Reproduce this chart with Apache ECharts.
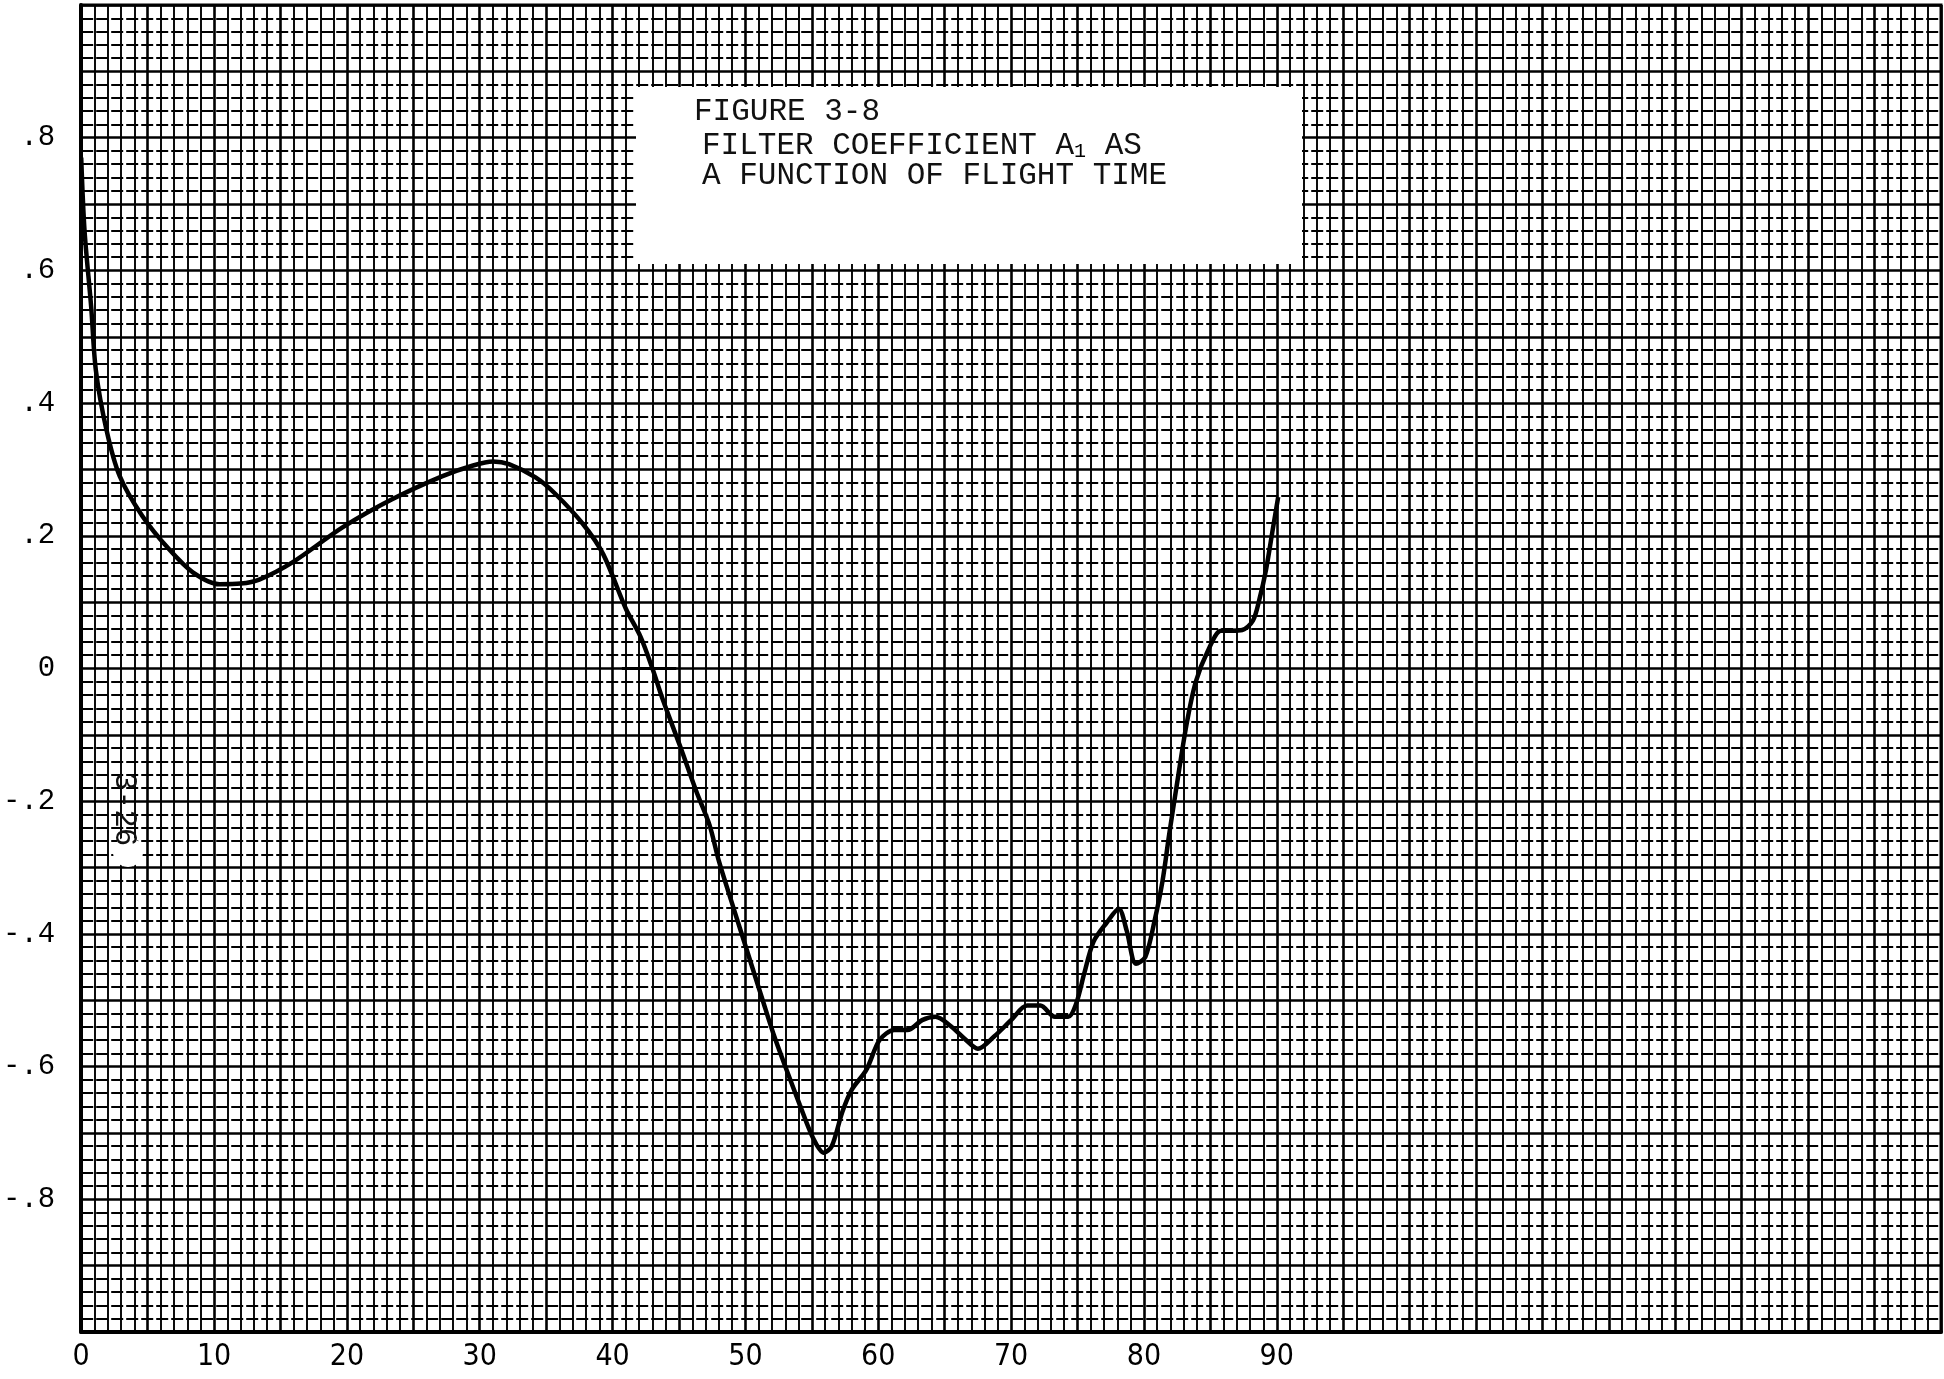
<!DOCTYPE html>
<html>
<head>
<meta charset="utf-8">
<script src="https://cdn.jsdelivr.net/npm/echarts@6/dist/echarts.min.js"></script>
<style>
html,body{margin:0;padding:0;background:#fff;}
#chart{width:1944px;height:1379px;}
</style>
</head>
<body>
<div id="chart"></div>
<script>
// Flight time (x) and filter coefficient A1 (y)
const flightTime = [0, 0.25, 0.75, 1.1, 1.9, 2.9, 4.6, 6.6, 8.4, 10.4, 12.0, 13.4, 15.9, 19.7, 23.4, 27.2, 29.5, 31.0, 32.2, 34.2, 35.7, 37.8, 39.3, 41.0, 42.1, 43.0, 43.8, 45.1, 46.3, 47.3, 48.0, 48.9, 49.8, 51.3, 52.1, 53.1, 54.1, 55.1, 55.9, 56.5, 57.3, 58.0, 59.1, 60.1, 61.2, 62.2, 63.3, 64.3, 65.4, 66.5, 67.5, 68.7, 70.0, 71.2, 72.2, 73.3, 74.3, 74.9, 75.5, 76.2, 77.2, 78.1, 78.7, 79.4, 80.1, 80.8, 81.4, 81.9, 82.4, 83.2, 83.9, 84.8, 85.8, 86.6, 87.4, 88.2, 88.7, 89.2, 89.7, 90.1];
const coefficientA1 = [0.77, 0.66, 0.545, 0.45, 0.36, 0.29, 0.23, 0.18, 0.145, 0.127, 0.128, 0.134, 0.16, 0.213, 0.255, 0.29, 0.306, 0.312, 0.308, 0.288, 0.263, 0.217, 0.172, 0.09, 0.048, 0.0, -0.048, -0.118, -0.185, -0.236, -0.29, -0.348, -0.405, -0.5, -0.55, -0.605, -0.658, -0.708, -0.73, -0.72, -0.668, -0.635, -0.605, -0.56, -0.545, -0.545, -0.53, -0.525, -0.538, -0.558, -0.573, -0.555, -0.53, -0.508, -0.508, -0.525, -0.525, -0.505, -0.46, -0.412, -0.383, -0.362, -0.395, -0.445, -0.435, -0.38, -0.32, -0.25, -0.185, -0.085, -0.02, 0.026, 0.057, 0.057, 0.058, 0.072, 0.105, 0.15, 0.21, 0.258];
// hand-drawn zero-crossing mark
const crossMarkX = [40.7, 44.8];
const crossMarkY = [0, 0];

const xTickValues = [0, 10, 20, 30, 40, 50, 60, 70, 80, 90];
const xTickLabels = ['0', '10', '20', '30', '40', '50', '60', '70', '80', '90'];
const yTickValues = [0.8, 0.6, 0.4, 0.2, 0, -0.2, -0.4, -0.6, -0.8];
const yTickLabels = ['.8', '.6', '.4', '.2', '0', '-.2', '-.4', '-.6', '-.8'];

const titleLines = ['FIGURE 3-8', 'FILTER COEFFICIENT A', '1', ' AS', 'A FUNCTION OF FLIGHT TIME'];
const pageMark = '3-26';

function lookup(values, labels, v) {
  for (let i = 0; i < values.length; i++) {
    if (Math.abs(values[i] - v) < 1e-6) return labels[i];
  }
  return '';
}

const mono = '"Liberation Mono", "DejaVu Sans Mono", monospace';
const chart = echarts.init(document.getElementById('chart'));

const option = {
  animation: false,
  backgroundColor: '#fff',
  grid: {left: 80, right: 2, top: 5, bottom: 47, show: true, borderColor: '#000', borderWidth: 3},
  xAxis: {
    type: 'value', min: 0, max: 140, interval: 5,
    axisLine: {show: true, onZero: false, lineStyle: {color: '#000', width: 4}},
    axisTick: {show: false},
    splitLine: {show: true, lineStyle: {color: '#000', width: 2.6}},
    minorTick: {show: false, splitNumber: 5},
    minorSplitLine: {show: true, lineStyle: {color: '#000', width: 1.9}},
    axisLabel: {
      margin: 10, fontSize: 30, color: '#000', fontFamily: '"DejaVu Sans Condensed", "DejaVu Sans", sans-serif',
      formatter: v => lookup(xTickValues, xTickLabels, v)
    }
  },
  yAxis: {
    type: 'value', min: -1, max: 1, interval: 0.1,
    axisLine: {show: true, onZero: false, lineStyle: {color: '#000', width: 4}},
    axisTick: {show: false},
    splitLine: {show: true, lineStyle: {color: '#000', width: 2.6}},
    minorTick: {show: false, splitNumber: 5},
    minorSplitLine: {show: true, lineStyle: {color: '#000', width: 1.9, type: [12, 3]}},
    axisLabel: {
      margin: 26, fontSize: 29, color: '#000', fontFamily: mono,
      formatter: v => lookup(yTickValues, yTickLabels, Math.round(v * 10) / 10)
    }
  },
  series: [
    {
      type: 'line', data: flightTime.map((x, i) => [x, coefficientA1[i]]),
      symbol: 'none', smooth: 0.3, z: 5,
      lineStyle: {color: '#000', width: 4.5}
    },
    {
      type: 'line', data: crossMarkX.map((x, i) => [x, crossMarkY[i]]),
      symbol: 'none', z: 5,
      lineStyle: {color: '#000', width: 3}
    }
  ],
  graphic: [
    {type: 'rect', left: 636, top: 87, shape: {width: 666, height: 177}, style: {fill: '#fff'}, z: 50},
    {type: 'text', left: 694, top: 96, z: 51, style: {text: titleLines[0], font: '31px ' + mono, fill: '#111'}},
    {type: 'text', left: 702, top: 130, z: 51, style: {
      text: '{t|' + titleLines[1] + '}{s|' + titleLines[2] + '}{t|' + titleLines[3] + '}',
      rich: {t: {fontSize: 31, fontFamily: mono, fill: '#111', color: '#111'}, s: {fontSize: 20, fontFamily: mono, color: '#111', padding: [12, 0, 0, 0]}}
    }},
    {type: 'text', left: 702, top: 160, z: 51, style: {text: titleLines[4], font: '31px ' + mono, fill: '#111'}},
    {type: 'circle', shape: {cx: 128, cy: 852, r: 15}, style: {fill: '#fff'}, z: 50},
    {type: 'text', x: 140, y: 772, rotation: -Math.PI / 2, z: 51, style: {text: pageMark, font: '31px ' + mono, fill: '#111'}}
  ]
};
chart.setOption(option);
</script>
</body>
</html>
